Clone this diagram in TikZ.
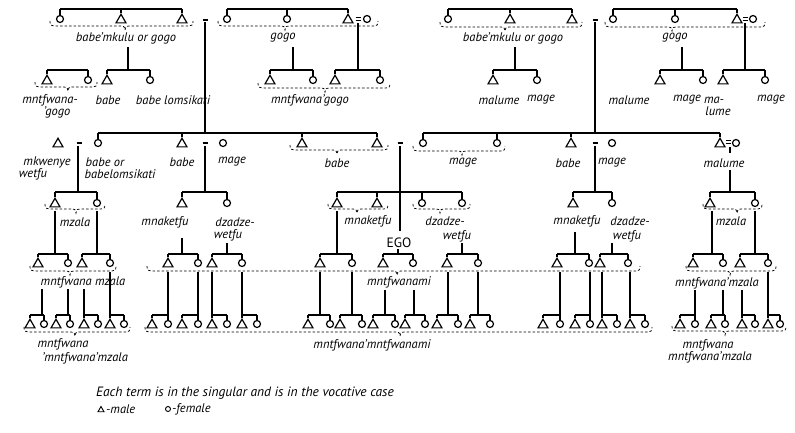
\documentclass[tikz,border=0pt]{standalone}
\usepackage{fontspec}
\setmainfont{PT Sans}
\usetikzlibrary{shapes.geometric}
\newcommand\M[3]{\node[kmale] (#1) at (#2,#3+1) {};}
\newcommand\F[3]{\node[kfem] (#1) at (#2,#3) {};}
\newcommand\kticks[2]{\foreach \n in {#2}{\draw[kbarl] (\n.north) -- (\n.north |- 0,#1);}}
\newcommand\khor[3]{\draw[kbarl] (#2.north |- 0,#1) -- (#3.north |- 0,#1);}
\newcommand\kpair[3]{\kticks{#1}{#2,#3}\khor{#1}{#2}{#3}}
\newcommand\kdesc[4]{\coordinate (#1) at (#2,#3); \draw[kbarl] (#1) -- (#1 |- 0,#4);}
\newcommand\kbrace[4]{\draw[kbr] (#1,#4-5) .. controls (#1,#4-1) and (#1+1,#4) .. (#1+4,#4) -- (#3-4,#4) .. controls (#3-1,#4) .. (#3,#4+4) .. controls (#3+1,#4) .. (#3+4,#4) -- (#2-4,#4) .. controls (#2-1,#4) and (#2,#4-1) .. (#2,#4-5);}
\newcommand\kdash[2]{\draw[line width=1.6pt] (#1-2.5,#2) -- (#1+2.5,#2);}
\newcommand\keq[2]{\draw[line width=0.9pt] (#1-2.5,#2-1.3) -- (#1+2.5,#2-1.3) (#1-2.5,#2+1.3) -- (#1+2.5,#2+1.3);}
\newcommand\klabel[4]{\node[klab] (#1) at (#2,#3) {#4};}
\begin{document}
\begin{tikzpicture}[x=1pt,y=-1pt,
 kbarl/.style={line width=1.2pt},
 kbr/.style={line width=0.75pt, dash pattern=on 2.5pt off 2pt},
 kmale/.style={draw, regular polygon, regular polygon sides=3, minimum size=11.5pt, inner sep=0pt, line width=1.2pt},
 kfem/.style={draw, circle, minimum size=7pt, inner sep=0pt, line width=1.2pt},
 klab/.style={font=\fontsize{12.5}{13}\selectfont\itshape, inner sep=0pt},
]
\fill[white] (0,0) rectangle (795,432);
\useasboundingbox (0,0) rectangle (795,432);

% ---------- Row A ----------
\F{a1}{60}{19} \M{a2}{121}{19} \M{a3}{182}{19}
\F{a4}{227}{19} \F{a5}{287}{19} \M{a6}{348}{19} \F{a7}{367}{19}
\F{a8}{448}{19} \M{a9}{510}{19} \M{a10}{572}{19}
\F{a11}{613}{19} \F{a12}{675}{19} \M{a13}{737}{19} \F{a14}{753}{19}
\kticks{9}{a1,a2,a3} \khor{9}{a1}{a3}
\kticks{9}{a4,a5,a6} \khor{9}{a4}{a6}
\kticks{9}{a8,a9,a10} \khor{9}{a8}{a10}
\kticks{9}{a11,a12,a13} \khor{9}{a11}{a13}
\kdash{205}{20} \keq{358}{19} \kdash{595}{20} \keq{745}{19}
\kbrace{50}{193}{125}{26} \kbrace{218}{378}{285}{26}
\kbrace{440}{582}{505}{27} \kbrace{605}{765}{672}{27}
\klabel{la1}{126}{38}{babe'mkulu or gogo}
\klabel{la2}{283}{38}{gogo}
\klabel{la3}{513}{38}{babe'mkulu or gogo}
\klabel{la4}{675}{38}{gogo}

% ---------- descents A ----------
\kdesc{da1}{205}{22}{133}
\kdesc{da2}{595}{22}{133}
\kdesc{da3}{128}{47}{70}
\kdesc{da4}{293}{47}{70}
\kdesc{da5}{358}{23}{70}
\kdesc{da6}{515}{47}{70}
\kdesc{da7}{682}{47}{70}
\kdesc{da8}{745}{23}{70}

% ---------- Row B ----------
\M{b1}{47}{80} \F{b2}{88}{80} \kpair{70}{b1}{b2}
\M{b3}{107}{80} \F{b4}{150}{80} \kpair{70}{b3}{b4}
\M{b5}{270}{80} \F{b6}{313}{80} \kpair{70}{b5}{b6}
\M{b7}{335}{80} \F{b8}{380}{80} \kpair{70}{b7}{b8}
\M{b9}{493}{80} \F{b10}{537}{80} \kpair{70}{b9}{b10}
\M{b11}{660}{80} \F{b12}{703}{80} \kpair{70}{b11}{b12}
\M{b13}{723}{80} \F{b14}{765}{80} \kpair{70}{b13}{b14}
\kbrace{35}{97}{68}{87} \kbrace{258}{390}{325}{88}
\klabel{lb1}{50}{100}{mntfwana-}
\klabel{lb2}{57}{112}{'gogo}
\klabel{lb3}{108}{100}{babe}
\klabel{lb4}{173}{100}{babe lomsikati}
\klabel{lb5}{310}{100}{mntfwana'gogo}
\klabel{lb6}{499}{100}{malume}
\klabel{lb7}{541}{100}{mage}
\klabel{lb8}{629}{100}{malume}
\klabel{lb9}{687}{100}{mage}
\klabel{lb10}{714}{100}{ma-}
\klabel{lb11}{718}{111}{lume}
\klabel{lb12}{771}{100}{mage}

% ---------- Row C ----------
\M{c1}{58}{143} \F{c2}{98}{143} \M{c3}{182}{143} \F{c4}{223}{143}
\M{c5}{302}{143} \M{c6}{377}{143} \F{c7}{423}{143} \F{c8}{497}{143}
\M{c9}{571}{143} \F{c10}{612}{143} \M{c11}{720}{143} \F{c12}{736}{143}
\kticks{133}{c2,c3,c5,c6} \khor{133}{c2}{c6}
\kticks{133}{c7,c8,c9,c11} \khor{133}{c7}{c11}
\kdash{79}{143} \kdash{205}{143} \kdash{400}{143} \kdash{595}{143} \keq{728}{142}
\kbrace{290}{388}{337}{150} \kbrace{413}{505}{462}{151}
\klabel{lc1}{47}{162}{mkwenye}
\klabel{lc2}{33}{174}{wetfu}
\klabel{lc3}{105}{162}{babe or}
\klabel{lc4}{120}{174}{babelomsikati}
\klabel{lc5}{182}{162}{babe}
\klabel{lc6}{232}{162}{mage}
\klabel{lc7}{337}{163}{babe}
\klabel{lc8}{463}{163}{mage}
\klabel{lc9}{568}{163}{babe}
\klabel{lc10}{612}{163}{mage}
\klabel{lc11}{724}{163}{malume}

% ---------- descents C ----------
\kdesc{dc1}{78}{146}{192}
\kdesc{dc2}{205}{146}{192}
\kdesc{dc3}{400}{146}{231}
\kdesc{dc4}{595}{146}{192}
\kdesc{dc5}{730}{147}{153}
\kdesc{dc6}{730}{170}{192}

% ---------- Row D ----------
\M{d1}{55}{203} \F{d2}{97}{203} \kpair{192}{d1}{d2}
\M{d3}{182}{203} \F{d4}{227}{203} \kpair{192}{d3}{d4}
\M{d5}{337}{203} \M{d6}{377}{203} \F{d7}{422}{203} \F{d8}{462}{203}
\kticks{192}{d5,d6,d7,d8} \khor{192}{d5}{d8}
\M{d9}{573}{203} \F{d10}{612}{203} \kpair{192}{d9}{d10}
\M{d11}{710}{203} \F{d12}{755}{203} \kpair{192}{d11}{d12}
\kbrace{45}{105}{76}{209} \kbrace{328}{388}{357}{209}
\kbrace{413}{470}{440}{209} \kbrace{703}{762}{737}{209}
\klabel{ld1}{75}{222}{mzala}
\klabel{ld2}{165}{222}{mnaketfu}
\klabel{ld3}{235}{222}{dzadze-}
\klabel{ld4}{228}{235}{wetfu}
\klabel{ld5}{368}{221}{mnaketfu}
\klabel{ld6}{445}{221}{dzadze-}
\klabel{ld7}{457}{236}{wetfu}
\node[font=\fontsize{13.5}{14}\selectfont, inner sep=0pt] (ego) at (399,243) {EGO};
\klabel{ld8}{577}{221}{mnaketfu}
\klabel{ld9}{630}{221}{dzadze-}
\klabel{ld10}{627}{236}{wetfu}
\klabel{ld11}{731}{221}{mzala}

% ---------- descents D ----------
\kdesc{dd1}{55}{211}{254}
\kdesc{dd2}{97}{211}{254}
\kdesc{dd3}{182}{238}{254}
\kdesc{dd4}{227}{243}{254}
\kdesc{dd5}{337}{211}{254}
\kdesc{dd6}{398}{249}{254}
\kdesc{dd7}{462}{243}{254}
\kdesc{dd8}{575}{232}{254}
\kdesc{dd9}{612}{243}{254}
\kdesc{dd10}{712}{211}{254}
\kdesc{dd11}{755}{211}{254}

% ---------- Row E ----------
\M{e1}{38}{263} \F{e2}{68}{263} \kpair{254}{e1}{e2}
\M{e3}{82}{263} \F{e4}{110}{263} \kpair{254}{e3}{e4}
\M{e5}{168}{263} \F{e6}{198}{263} \kpair{254}{e5}{e6}
\M{e7}{212}{263} \F{e8}{242}{263} \kpair{254}{e7}{e8}
\M{e9}{320}{263} \F{e10}{352}{263} \kpair{254}{e9}{e10}
\M{e11}{383}{263} \F{e12}{413}{263} \kpair{254}{e11}{e12}
\M{e13}{447}{263} \F{e14}{478}{263} \kpair{254}{e13}{e14}
\M{e15}{557}{263} \F{e16}{589}{263} \kpair{254}{e15}{e16}
\M{e17}{600}{263} \F{e18}{628}{263} \kpair{254}{e17}{e18}
\M{e19}{693}{263} \F{e20}{723}{263} \kpair{254}{e19}{e20}
\M{e21}{740}{263} \F{e22}{768}{263} \kpair{254}{e21}{e22}
\kbrace{30}{116}{70}{271} \kbrace{147}{640}{397}{271} \kbrace{686}{776}{730}{271}
\klabel{le1}{83}{282}{mntfwana mzala}
\klabel{le2}{399}{282}{mntfwanami}
\klabel{le3}{717}{283}{mntfwana'mzala}

% ---------- descents E ----------
\kdesc{de1}{42}{289}{315}
\kdesc{de2}{68}{289}{315}
\kdesc{de3}{84}{289}{315}
\kdesc{de4}{110}{272}{315}
\kdesc{de5}{168}{272}{315}
\kdesc{de6}{198}{272}{315}
\kdesc{de7}{212}{272}{315}
\kdesc{de8}{242}{272}{315}
\kdesc{de9}{320}{272}{315}
\kdesc{de10}{352}{272}{315}
\kdesc{de11}{385}{290}{315}
\kdesc{de12}{414}{290}{315}
\kdesc{de13}{448}{272}{315}
\kdesc{de14}{478}{272}{315}
\kdesc{de15}{560}{272}{315}
\kdesc{de16}{590}{272}{315}
\kdesc{de17}{602}{272}{315}
\kdesc{de18}{630}{272}{315}
\kdesc{de19}{695}{290}{315}
\kdesc{de20}{723}{290}{315}
\kdesc{de21}{742}{290}{315}
\kdesc{de22}{768}{272}{315}

% ---------- Row F ----------
\M{f1}{30}{324} \F{f2}{44}{324} \kpair{315}{f1}{f2}
\M{f3}{56}{324} \F{f4}{70}{324} \kpair{315}{f3}{f4}
\M{f5}{84}{324} \F{f6}{98}{324} \kpair{315}{f5}{f6}
\M{f7}{110}{324} \F{f8}{124}{324} \kpair{315}{f7}{f8}
\M{f9}{152}{324} \F{f10}{168}{324} \kpair{315}{f9}{f10}
\M{f11}{182}{324} \F{f12}{198}{324} \kpair{315}{f11}{f12}
\M{f13}{212}{324} \F{f14}{227}{324} \kpair{315}{f13}{f14}
\M{f15}{242}{324} \F{f16}{257}{324} \kpair{315}{f15}{f16}
\M{f17}{308}{324} \F{f18}{330}{324} \kpair{315}{f17}{f18}
\M{f19}{340}{324} \F{f20}{362}{324} \kpair{315}{f19}{f20}
\M{f21}{373}{324} \F{f22}{395}{324} \kpair{315}{f21}{f22}
\M{f23}{405}{324} \F{f24}{425}{324} \kpair{315}{f23}{f24}
\M{f25}{437}{324} \F{f26}{458}{324} \kpair{315}{f25}{f26}
\M{f27}{470}{324} \F{f28}{490}{324} \kpair{315}{f27}{f28}
\M{f29}{543}{324} \F{f30}{560}{324} \kpair{315}{f29}{f30}
\M{f31}{575}{324} \F{f32}{590}{324} \kpair{315}{f31}{f32}
\M{f33}{602}{324} \F{f34}{617}{324} \kpair{315}{f33}{f34}
\M{f35}{630}{324} \F{f36}{645}{324} \kpair{315}{f35}{f36}
\M{f37}{680}{324} \F{f38}{695}{324} \kpair{315}{f37}{f38}
\M{f39}{711}{324} \F{f40}{725}{324} \kpair{315}{f39}{f40}
\M{f41}{742}{324} \F{f42}{755}{324} \kpair{315}{f41}{f42}
\M{f43}{768}{324} \F{f44}{780}{324} \kpair{315}{f43}{f44}
\kbrace{24}{130}{75}{332} \kbrace{145}{652}{400}{332} \kbrace{672}{786}{725}{331}
\klabel{lf1}{63}{344}{mntfwana}
\klabel{lf2}{85}{358}{'mntfwana'mzala}
\klabel{lf3}{372}{345}{mntfwana'mntfwanami}
\klabel{lf4}{708}{345}{mntfwana}
\klabel{lf5}{710}{357}{mntfwana'mzala}

% ---------- footer ----------
\node[klab, font=\fontsize{13.5}{14}\selectfont\itshape, anchor=west] (note) at (96,393) {Each term is in the singular and is in the vocative case};
\node[kmale, minimum size=7pt, line width=0.9pt] (legm) at (101,410) {};
\node[klab, anchor=west] (legmt) at (106,409) {-male};
\node[kfem, minimum size=5pt, line width=0.9pt] (legf) at (168,409) {};
\node[klab, anchor=west] (legft) at (172,409) {-female};
\end{tikzpicture}
\end{document}
